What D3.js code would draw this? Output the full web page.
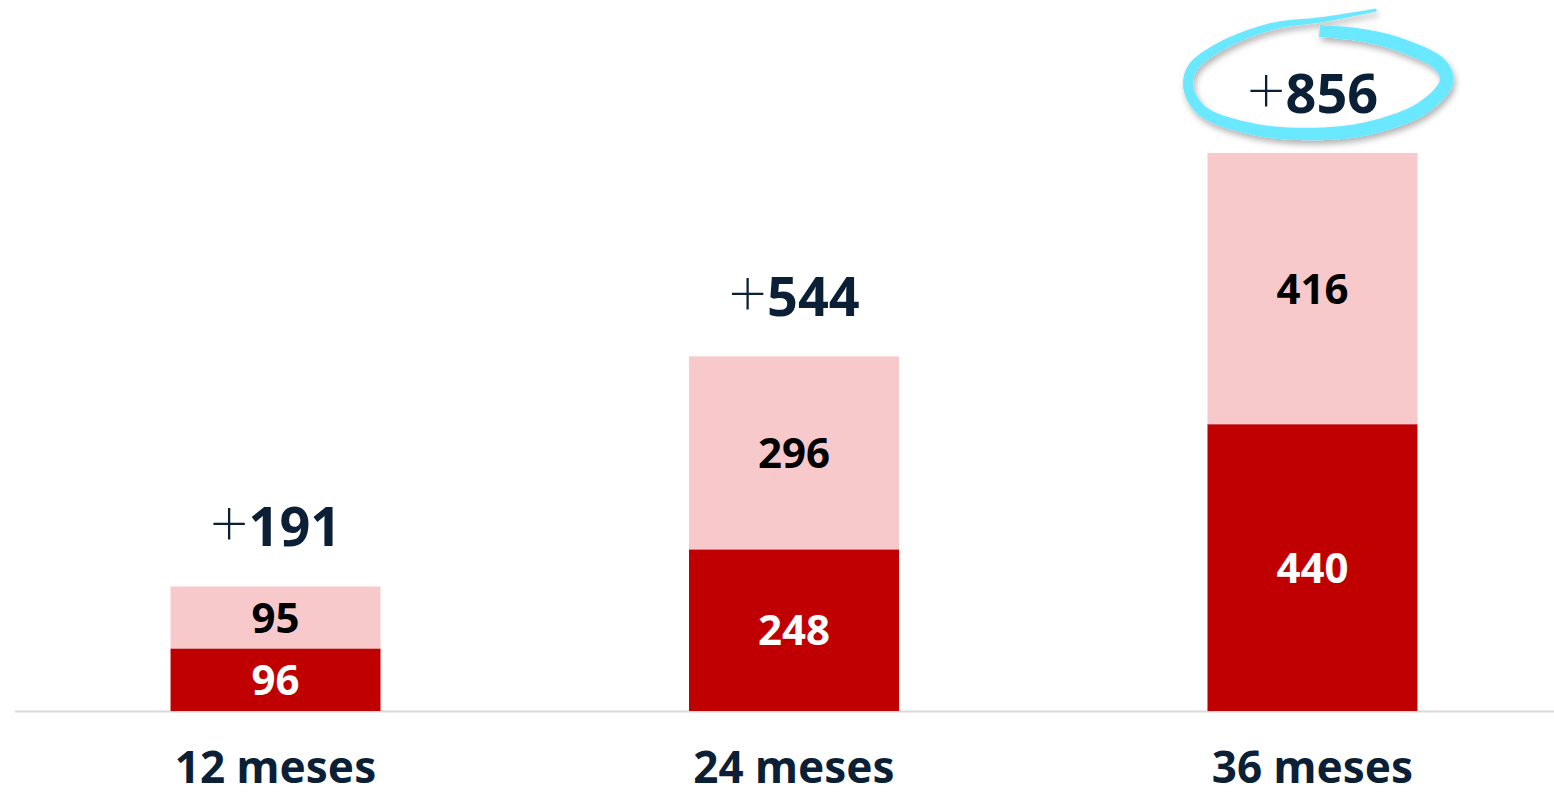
<!DOCTYPE html>
<html>
<head>
<meta charset="utf-8">
<script src="https://cdn.jsdelivr.net/npm/d3@7"></script>
<style>
  body { margin: 0; background: #fff; }
  svg { display: block; font-family: "Noto Sans", sans-serif; }
</style>
</head>
<body>
<script>
// data
var categories = ["12 meses", "24 meses", "36 meses"];
var base_values = [96, 248, 440];   // dark red, bottom
var top_values = [95, 296, 416];    // pink, on top
var total_labels = ["191", "544", "856"];

var size = ({ width: 1554, height: 796 });
var navy = "#0b1f36";

var svg = d3.select("body").append("svg")
            .attr("width", size.width)
            .attr("height", size.height)
            ;

var x_scale = d3.scaleBand()
                .domain(categories)
                .range([15, 1573])
                .paddingInner(0.595)
                .paddingOuter(0.3)
                ;
var totals = categories.map((c, i) => base_values[i] + top_values[i]);
var y_scale = d3.scaleLinear()
                .domain([0, d3.max(totals)])
                .range([711, 153])
                ;

var rows = categories.map((c, i) => ({
  cat: c, base: base_values[i], top: top_values[i], total: totals[i], label: total_labels[i]
}));

// base line
svg.append("line")
   .attr("x1", 15).attr("x2", size.width)
   .attr("y1", y_scale(0) + 0.5).attr("y2", y_scale(0) + 0.5)
   .attr("stroke", "#d9d9d9").attr("stroke-width", 2);

// stacked bars
var g = svg.selectAll(".bar").data(rows).enter().append("g").attr("class", "bar");

g.append("rect")
 .attr("x", d => x_scale(d.cat))
 .attr("width", x_scale.bandwidth())
 .attr("y", d => y_scale(d.base))
 .attr("height", d => y_scale(0) - y_scale(d.base))
 .attr("fill", "#c00000");

g.append("rect")
 .attr("x", d => x_scale(d.cat))
 .attr("width", x_scale.bandwidth())
 .attr("y", d => y_scale(d.total))
 .attr("height", d => y_scale(d.base) - y_scale(d.total))
 .attr("fill", "#f8c9cb");

g.append("text")
 .attr("x", d => x_scale(d.cat) + x_scale.bandwidth() / 2)
 .attr("y", d => (y_scale(0) + y_scale(d.base)) / 2)
 .attr("dy", "0.36em")
 .attr("text-anchor", "middle")
 .attr("font-size", 42).attr("font-weight", 700)
 .attr("fill", "#fff")
 .text(d => d.base);

g.append("text")
 .attr("x", d => x_scale(d.cat) + x_scale.bandwidth() / 2)
 .attr("y", d => (y_scale(d.base) + y_scale(d.total)) / 2)
 .attr("dy", "0.36em")
 .attr("text-anchor", "middle")
 .attr("font-size", 42).attr("font-weight", 700)
 .attr("fill", "#000")
 .text(d => d.top);

// totals above bars
var tot = g.append("text")
 .attr("x", d => x_scale(d.cat) + x_scale.bandwidth() / 2)
 .attr("y", d => y_scale(d.total) - 40)
 .attr("text-anchor", "middle")
 .attr("font-size", 54)
 .attr("fill", navy);
tot.append("tspan").attr("font-weight", 200).attr("font-size", 68).attr("dy", 2).text("+");
tot.append("tspan").attr("font-weight", 700).attr("dy", -2).text(d => d.label);

// category axis
var axis = svg.append("g")
              .attr("transform", "translate(0," + y_scale(0) + ")")
              .call(d3.axisBottom(x_scale).tickSize(0).tickPadding(41));
axis.select(".domain").remove();
axis.selectAll("text")
    .attr("font-family", "Noto Sans, sans-serif")
    .attr("font-size", 44)
    .attr("font-weight", 700)
    .attr("fill", navy);

// hand drawn circle round the last total
var last = rows[rows.length - 1];
var cx = x_scale(last.cat) + x_scale.bandwidth() / 2;
var cy = y_scale(last.total) - 73;
var loop = [
  [64, -70], [14, -61], [-43, -53], [-93, -33], [-120, -12], [-124, 8],
  [-110, 31], [-60, 49], [0, 54], [57, 48], [110, 28], [134, 2],
  [128, -15], [88, -35], [48, -45], [7, -49]
].map(p => [cx + p[0], cy + p[1]]);

var guide = svg.append("path")
               .attr("d", d3.line().curve(d3.curveCatmullRom)(loop))
               .attr("fill", "none");
var len = guide.node().getTotalLength();
var width_at = d3.scaleLinear()
                 .domain([0, 0.12, 0.3, 0.6, 0.85, 1])
                 .range([3, 6, 10, 13, 14, 12]);
var n = 200, left = [], right = [];
for (var i = 0; i <= n; i++) {
  var t = i / n;
  var a = guide.node().getPointAtLength(Math.max(0, len * t - 0.5));
  var b = guide.node().getPointAtLength(Math.min(len, len * t + 0.5));
  var p = guide.node().getPointAtLength(len * t);
  var dx = b.x - a.x, dy = b.y - a.y, m = Math.hypot(dx, dy) || 1;
  var nx = -dy / m, ny = dx / m, w = width_at(t) / 2;
  left.push([p.x + nx * w, p.y + ny * w]);
  right.push([p.x - nx * w, p.y - ny * w]);
}
guide.remove();

var defs = svg.append("defs");
var f = defs.append("filter").attr("id", "shadow")
            .attr("x", "-20%").attr("y", "-40%").attr("width", "140%").attr("height", "180%");
f.append("feDropShadow").attr("dx", 2).attr("dy", 4).attr("stdDeviation", 3)
 .attr("flood-color", "#000").attr("flood-opacity", 0.3);

svg.append("path")
   .attr("d", d3.line()(left.concat(right.reverse())) + "Z")
   .attr("fill", "#6ae8ff")
   .attr("filter", "url(#shadow)");
</script>
</body>
</html>
